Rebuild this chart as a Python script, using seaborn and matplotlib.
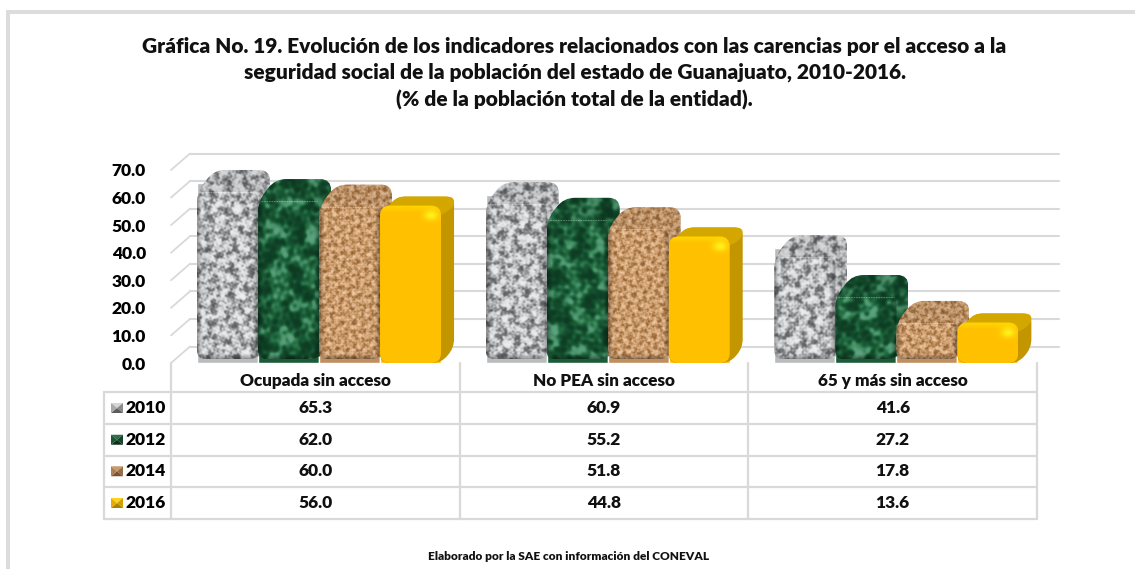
import numpy as np
import pandas as pd
import matplotlib
matplotlib.use("Agg")
import matplotlib.pyplot as plt
import seaborn as sns
from matplotlib.colors import LinearSegmentedColormap
from matplotlib.patches import PathPatch, Polygon, Rectangle
from matplotlib.path import Path

grupos = ["Ocupada sin acceso", "No PEA sin acceso", "65 y más sin acceso"]
anios = ["2010", "2012", "2014", "2016"]
valores_2010 = [65.3, 60.9, 41.6]
valores_2012 = [62.0, 55.2, 27.2]
valores_2014 = [60.0, 51.8, 17.8]
valores_2016 = [56.0, 44.8, 13.6]
ticks = [0, 10, 20, 30, 40, 50, 60, 70]
titulo = ["Gráfica No. 19. Evolución de los indicadores relacionados con las carencias por el acceso a la",
          "seguridad social de la población del estado de Guanajuato, 2010-2016.",
          "(% de la población total de la entidad)."]
nota = "Elaborado por la SAE con información del CONEVAL"

W, H = 1135, 569
GRIS = "#d9d9d9"
colores = {"2010": "#b9bbbd", "2012": "#1c5a38", "2014": "#c08f5f", "2016": "#ffc000"}
cmaps = {
    "2010": LinearSegmentedColormap.from_list("g", ["#5a5c5f", "#8f9194", "#b9bbbd", "#d6d8d9", "#eeeff0"]),
    "2012": LinearSegmentedColormap.from_list("v", ["#0c3a22", "#134a2c", "#1a5c37", "#2a7549", "#5fa582"]),
    "2014": LinearSegmentedColormap.from_list("t", ["#8f5f35", "#b5834f", "#cc9d6e", "#dcb086", "#eecba6"]),
}
onda = {"2010": 6.5, "2012": 13.0, "2014": 3.6}
teclas = {"2010": ["#d5d5d5", "#8a8a8a", "#5c5c5c", "#a8a8a8"],
          "2012": ["#2f6e4b", "#14432a", "#0c2e1c", "#1d5636"],
          "2014": ["#c99a6e", "#9a6c44", "#7a5232", "#ad7f57"],
          "2016": ["#ffd21f", "#d19f00", "#a98000", "#e5ad00"]}

sns.set_theme(style="white")
plt.rcParams["font.family"] = ["Lato", "DejaVu Sans"]


def redondeado(puntos, r):
    # closed polygon with its corners rounded
    verts, codes = [], []
    n = len(puntos)
    for i in range(n):
        p = np.array(puntos[i], float)
        a = np.array(puntos[i - 1], float)
        b = np.array(puntos[(i + 1) % n], float)
        ra = min(r, np.linalg.norm(a - p) / 2)
        rb = min(r, np.linalg.norm(b - p) / 2)
        p1 = p + (a - p) / np.linalg.norm(a - p) * ra
        p2 = p + (b - p) / np.linalg.norm(b - p) * rb
        verts.append(p1)
        codes.append(Path.MOVETO if i == 0 else Path.LINETO)
        verts += [p, p2]
        codes += [Path.CURVE3, Path.CURVE3]
    verts.append(verts[0])
    codes.append(Path.CLOSEPOLY)
    return Path(verts, codes)


def textura(x0, x1, y0, y1, largo, semilla):
    # blotchy stone pattern: waves of many sizes at fixed golden-angle directions
    xx, yy = np.meshgrid(np.arange(x0, x1, 0.5), np.arange(y0, y1, 0.5))
    campo = np.zeros_like(xx)
    for k in range(1, 33):
        ang = k * 2.39996 + semilla * 0.7
        s = 0.3 * 1.065 ** k
        f = s * 2 * np.pi / largo
        campo += s ** -0.4 * np.sin(f * (np.cos(ang) * xx + np.sin(ang) * yy) + k * k * 1.37 + semilla * 2.1)
    campo /= campo.std()
    return 0.5 + 0.5 * np.tanh(campo * 0.7)


def pintar(over, rgb, extent, clip, z):
    im = over.imshow(rgb, extent=extent, zorder=z, interpolation="bilinear", aspect="auto")
    clip.set_transform(over.transData)
    over.add_patch(clip)
    im.set_clip_path(clip)


def barra_textura(over, anio, x0, x1, ytop, ybot, semilla, z):
    ya = ytop - 13
    yf = ya + 22
    sil = [(x0, yf), (x0 + 17, ya), (x1 + 12, ya), (x1 + 12, ybot - 14), (x1, ybot), (x0, ybot)]
    ext = (x0, x1 + 12, ybot, ya)
    t = textura(x0, x1 + 12, ya, ybot, onda[anio], semilla)
    rgb = cmaps[anio](t)[:, :, :3]
    pintar(over, rgb * 0.92, ext, PathPatch(redondeado(sil, 11), fc="none", ec="none"), z)
    # front face, darkened towards its edges
    alto, ancho = t.shape
    xx, yy = np.meshgrid(np.linspace(x0, x1 + 12, ancho), np.linspace(ya, ybot, alto))
    d = np.minimum.reduce([xx - x0, x1 - xx, ybot - yy])
    sombra = 0.66 + 0.34 * np.clip(d / 5, 0, 1)
    frente = redondeado([(x0, yf), (x1, yf), (x1, ybot), (x0, ybot)], 8)
    pintar(over, rgb * sombra[:, :, None], ext, PathPatch(frente, fc="none", ec="none"), z + 0.1)
    over.plot([x0 + 3, x1 - 2], [yf, yf], color="white", lw=0.6, ls=(0, (2, 1)), alpha=0.35, zorder=z + 0.2)


def barra_oro(over, x0, x1, ytop, ybot, z):
    ya = ytop - 12
    yf = ya + 9
    sil = [(x0, yf + 10), (x0 + 17, ya), (x1 + 13, ya), (x1 + 13, ybot - 15), (x1, ybot), (x0, ybot)]
    over.add_patch(PathPatch(redondeado(sil, 9), fc="#c39600", ec="none", zorder=z))
    tapa = [(x0, yf + 10), (x0 + 17, ya), (x1 + 13, ya), (x1 + 13, ya + 10), (x1, yf + 10)]
    over.add_patch(PathPatch(redondeado(tapa, 7), fc="#d4a600", ec="none", zorder=z + 0.05))
    # front face with the light spot near its upper right corner
    xx, yy = np.meshgrid(np.arange(x0, x1, 0.5), np.arange(yf, ybot, 0.5))
    spot = np.exp(-(((xx - (x1 - 10)) / 7) ** 2 + ((yy - (yf + 10)) / 5) ** 2))
    borde = np.clip((yy - yf) / 7, 0, 1)
    rgb = np.ones(xx.shape + (3,))
    rgb[..., 1] = 0.753 + 0.09 * (1 - borde) + 0.2 * spot
    rgb[..., 2] = 0.1 * spot
    frente = redondeado([(x0, yf), (x1, yf), (x1, ybot), (x0, ybot)], 10)
    pintar(over, np.clip(rgb, 0, 1), (x0, x1, ybot, yf), PathPatch(frente, fc="none", ec="none"), z + 0.1)


df = pd.DataFrame({
    "grupo": grupos * 4,
    "anio": np.repeat(anios, 3),
    "valor": valores_2010 + valores_2012 + valores_2014 + valores_2016,
})

fig = plt.figure(figsize=(W / 100, H / 100), dpi=100, facecolor="white")
LEFT, RIGHT, Y0, Y70 = 171, 1037, 363, 170
ax = fig.add_axes([LEFT / W, 1 - Y0 / H, (RIGHT - LEFT) / W, (Y0 - Y70) / H])
sns.barplot(data=df, x="grupo", y="valor", hue="anio", hue_order=anios, order=grupos,
            palette=colores, width=0.845, gap=0, legend=False, saturation=1, ax=ax)
ax.set_xlim(-0.513, 2.487)
ax.set_ylim(0, 70)
ax.set_yticks(ticks)
ax.set_yticklabels([f"{t:.1f}" for t in ticks], fontsize=12.5, fontweight="heavy", color="black")
ax.tick_params(axis="y", length=0, pad=18)
ax.set_xticks([])
ax.set_xlabel("")
ax.set_ylabel("")
ax.patch.set_alpha(0)
for s in ax.spines.values():
    s.set_visible(False)

# pixel-space layer for the 3D look, the table and the frame
over = fig.add_axes([0, 0, 1, 1], zorder=5)
over.set_xlim(0, W)
over.set_ylim(H, 0)
over.axis("off")
over.patch.set_alpha(0)


def a_pix(x, y):
    px, py = ax.transData.transform((x, y))
    return px, H - py


# frame
over.add_patch(Rectangle((6, 10), W - 6, 3.5, fc="#dcdcdc", ec="none"))
over.add_patch(Rectangle((6, 10), 4, H - 10, fc="#dcdcdc", ec="none"))

# back wall grid
for t in ticks:
    _, y = a_pix(0, t)
    over.plot([LEFT, 190], [y, y - 16.5], color=GRIS, lw=1.3, zorder=1)
    over.plot([190, 1059], [y - 16.5, y - 16.5], color=GRIS, lw=1.5, zorder=1)

# bars, taken from the seaborn patches
z = 2
for i_g in range(len(grupos)):
    for i_a, anio in enumerate(anios):
        p = ax.containers[i_a][i_g]
        x0, ytop = a_pix(p.get_x(), p.get_height())
        x1, ybot = a_pix(p.get_x() + p.get_width(), 0)
        if anio == "2016":
            barra_oro(over, x0, x1, ytop, ybot, z)
        else:
            barra_textura(over, anio, x0, x1, ytop, ybot - 4, i_g * 3 + i_a + 1, z)
        z += 1
over.set_xlim(0, W)
over.set_ylim(H, 0)

# data table below the bars
filas_y = [392, 424, 455.5, 487, 519]
col_x = [LEFT + (RIGHT - LEFT) * i / 3 for i in range(4)]
for y in filas_y:
    over.plot([104, RIGHT], [y, y], color=GRIS, lw=1.6, zorder=60)
over.plot([104, 104], [filas_y[0], filas_y[-1]], color=GRIS, lw=1.6, zorder=60)
for x in col_x:
    over.plot([x, x], [Y0, filas_y[-1]], color=GRIS, lw=1.6, zorder=60)

series = [valores_2010, valores_2012, valores_2014, valores_2016]
for i, g in enumerate(grupos):
    xc = (col_x[i] + col_x[i + 1]) / 2
    over.text(xc, 381, g, ha="center", va="center", fontsize=12.3, fontweight="heavy", color="#111111", zorder=61)
    for j, vals in enumerate(series):
        yc = (filas_y[j] + filas_y[j + 1]) / 2
        over.text(xc, yc, f"{vals[i]:.1f}", ha="center", va="center", fontsize=12.5,
                  fontweight="heavy", color="#111111", zorder=61)

for j, anio in enumerate(anios):
    yc = (filas_y[j] + filas_y[j + 1]) / 2
    over.text(126, yc, anio, ha="left", va="center", fontsize=12.5, fontweight="heavy", color="black", zorder=61)
    kx0, kx1, ky0, ky1 = 111, 123, yc - 5, yc + 5
    c = ((kx0 + kx1) / 2, yc)
    esquinas = [(kx0, ky0), (kx1, ky0), (kx1, ky1), (kx0, ky1)]
    for k in range(4):
        over.add_patch(Polygon([esquinas[k], esquinas[(k + 1) % 4], c], fc=teclas[anio][k], ec="none", zorder=61))

for linea, y in zip(titulo, [46, 72, 100]):
    over.text(574.5, y, linea, ha="center", va="center", fontsize=15, fontweight="heavy", color="#111111", zorder=61)
over.text(569, 556, nota, ha="center", va="center", fontsize=8.6, fontweight="heavy", color="#111111", zorder=61)

fig.savefig("out.png", dpi=100)
